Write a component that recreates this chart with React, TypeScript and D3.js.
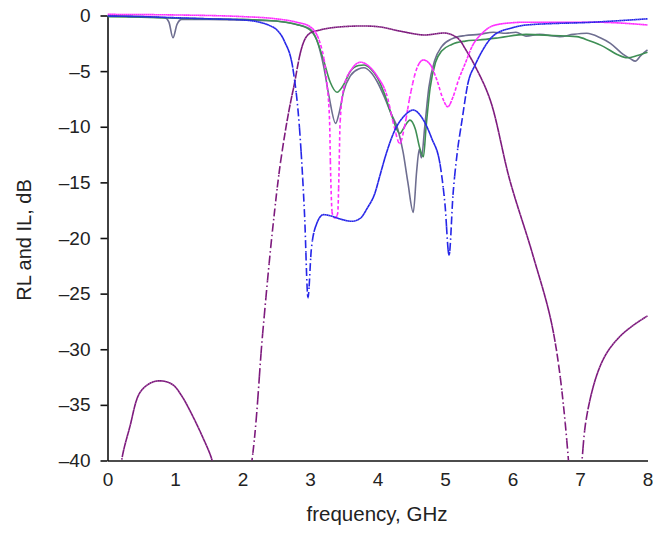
import React, { useEffect, useRef } from 'react';
import * as d3 from 'd3';

const W = 653;
const H = 533;
const margin = { left: 107.5, right: 5.5, top: 15.5, bottom: 72.5 };

const xTicks = [0, 1, 2, 3, 4, 5, 6, 7, 8];
const yTicks = [0, -5, -10, -15, -20, -25, -30, -35, -40];

// measured RL (grey) and measured IL-ish (green), simulated (pink, blue), IL (purple)
const greyMeas: [number, number][] = [
  [0, 0], [0.5, -0.1], [0.85, -0.2], [0.91, -0.6], [0.97, -2.0], [1.03, -0.8], [1.1, -0.35],
  [1.5, -0.35], [2.0, -0.4], [2.5, -0.5], [2.8, -0.8], [3.0, -1.2], [3.1, -2.2], [3.2, -4.5],
  [3.28, -7.2], [3.38, -9.7], [3.43, -8.8], [3.5, -6.8], [3.6, -5.4], [3.72, -4.8], [3.8, -4.7],
  [3.9, -5.1], [4.0, -6.0], [4.1, -7.3], [4.2, -8.8], [4.3, -10.2], [4.38, -12.3], [4.45, -15],
  [4.53, -17.7], [4.58, -14], [4.62, -12], [4.65, -12.8], [4.7, -10], [4.76, -6.5], [4.85, -4],
  [4.95, -2.8], [5.1, -2.1], [5.3, -1.8], [5.5, -1.7], [5.72, -1.5], [5.9, -1.6], [6.05, -1.5],
  [6.2, -1.85], [6.4, -1.7], [6.7, -1.9], [6.9, -1.7], [7.1, -1.6], [7.3, -2.0], [7.45, -2.5],
  [7.64, -3.5], [7.75, -3.9], [7.82, -4.1], [7.9, -3.6], [8, -3.1],
];

const greenMeas: [number, number][] = [
  [0, -0.1], [0.5, -0.15], [1.0, -0.25], [1.5, -0.3], [2.0, -0.35], [2.5, -0.5], [2.8, -0.8],
  [3.0, -1.3], [3.1, -2.2], [3.2, -4.0], [3.3, -6.0], [3.4, -6.9], [3.5, -6.2], [3.6, -5.0],
  [3.72, -4.5], [3.8, -4.45], [3.9, -4.8], [4.0, -5.6], [4.1, -7.0], [4.2, -8.8], [4.33, -10.6],
  [4.4, -10.0], [4.48, -9.4], [4.56, -10.2], [4.63, -12.0], [4.68, -12.7], [4.72, -10],
  [4.78, -6.5], [4.86, -4.2], [4.95, -3.2], [5.1, -2.6], [5.3, -2.3], [5.5, -2.2], [5.8, -2.0],
  [6.2, -1.7], [6.6, -1.8], [6.95, -1.9], [7.15, -2.3], [7.35, -2.8], [7.55, -3.5], [7.7, -3.8],
  [7.85, -3.6], [8, -3.3],
];

const pinkSim: [number, number][] = [
  [0, 0.1], [1, 0.05], [2, -0.1], [2.5, -0.3], [2.8, -0.6], [3.0, -1.0], [3.15, -2.5],
  [3.25, -6.1], [3.29, -9.5], [3.305, -14], [3.33, -17.8], [3.37, -18.2], [3.41, -17.8],
  [3.43, -14], [3.445, -9.8], [3.5, -6.5], [3.62, -4.8], [3.75, -4.2], [3.88, -4.6],
  [4.0, -5.5], [4.14, -7.2], [4.24, -9.8], [4.33, -11.5], [4.4, -10], [4.48, -7.3], [4.58, -4.8],
  [4.68, -4.0], [4.78, -4.4], [4.88, -5.8], [4.97, -7.5], [5.04, -8.2], [5.12, -7.3], [5.2, -5.8],
  [5.3, -4.3], [5.4, -2.8], [5.55, -1.6], [5.72, -0.9], [6.0, -0.65], [6.21, -0.6], [7.2, -0.6],
  [8, -0.85],
];

const blueSim: [number, number][] = [
  [0, -0.05], [0.5, -0.1], [1.0, -0.2], [1.5, -0.3], [2.0, -0.4], [2.25, -0.6], [2.4, -0.9],
  [2.51, -1.3], [2.62, -2.3], [2.75, -4.9], [2.85, -10.6], [2.92, -18], [2.97, -25.3],
  [3.02, -21], [3.1, -18.7], [3.2, -17.9], [3.3, -18.0], [3.45, -18.3], [3.62, -18.5],
  [3.75, -18.2], [3.85, -17.3], [3.96, -16.0], [4.04, -14.3], [4.12, -12.6], [4.25, -10.4],
  [4.4, -9.0], [4.53, -8.5], [4.66, -9.2], [4.8, -11], [4.93, -13.5], [5.0, -17], [5.06, -21.5],
  [5.12, -16], [5.18, -12.4], [5.25, -9.5], [5.34, -6.1], [5.45, -4.4], [5.55, -3.2],
  [5.72, -1.8], [6.0, -1.1], [6.21, -0.85], [7.2, -0.6], [8, -0.3],
];

const purpleIL: [number, number][] = [
  [0.17, -44], [0.21, -40], [0.33, -37], [0.48, -33.9], [0.65, -33.0], [0.81, -32.85],
  [0.97, -33.2], [1.1, -34.2], [1.22, -35.5], [1.41, -37.9], [1.55, -40], [1.6, -42],
  [1.85, -50], [2.14, -40], [2.3, -28.5], [2.45, -19], [2.58, -12.5], [2.75, -6.7],
  [2.96, -1.8], [3.15, -1.3], [3.5, -1.0], [4.0, -1.0], [4.33, -1.4], [4.68, -1.75],
  [5.03, -1.6], [5.2, -2.1], [5.3, -3], [5.45, -4.6], [5.67, -7.6], [5.96, -14.8], [6.3, -21.5],
  [6.6, -28.3], [6.82, -39.3], [6.92, -52], [7.03, -40], [7.1, -36], [7.25, -32.3],
  [7.4, -30.3], [7.6, -28.8], [7.8, -27.8], [8, -27],
];

const curves = [
  { data: greyMeas, color: '#6e6e90', dash: null, smooth: false },
  { data: greenMeas, color: '#3f8f55', dash: null, smooth: false },
  { data: purpleIL, color: '#7d1a7d', dash: '8,3,1.5,3', smooth: true },
  { data: pinkSim, color: '#ff2cff', dash: '3.5,2.5', smooth: false },
  { data: blueSim, color: '#2626e8', dash: '8,3,1.5,3', smooth: false },
];

const font = 'Liberation Sans, Arial, Helvetica, sans-serif';

export default function App() {
  const ref = useRef<SVGSVGElement>(null);

  useEffect(() => {
    const svg = d3.select(ref.current);
    svg.selectAll('*').remove();

    const width = W - margin.left - margin.right;
    const height = H - margin.top - margin.bottom;

    const xScale = d3.scaleLinear().domain([0, 8]).range([0, width]);
    const yScale = d3.scaleLinear().domain([-40, 0]).range([height, 0]);

    const g = svg.append('g')
      .attr('transform', 'translate(' + margin.left + ',' + margin.top + ')');

    svg.append('defs').append('clipPath').attr('id', 'plotclip')
      .append('rect').attr('x', 0).attr('y', -6).attr('width', width + 2).attr('height', height + 6);

    // axes
    const yAxis = d3.axisLeft(yScale).tickValues(yTicks).tickSize(7).tickSizeOuter(0).tickPadding(10)
      .tickFormat((d: any) => (d === 0 ? '0' : '\u2013' + Math.abs(d)));
    const ya = g.append('g').attr('class', 'y axis').call(yAxis);

    const xAxis = d3.axisBottom(xScale).tickValues(xTicks).tickSize(0).tickSizeOuter(0).tickPadding(12)
      .tickFormat((d: any) => String(d));
    const xa = g.append('g').attr('class', 'x axis')
      .attr('transform', 'translate(0,' + height + ')').call(xAxis);

    [ya, xa].forEach((a) => {
      a.select('.domain').attr('stroke', '#111').attr('stroke-width', 1.6);
      a.selectAll('.tick line').attr('stroke', '#111').attr('stroke-width', 1.6);
      a.selectAll('.tick text').attr('fill', '#222').style('font-family', font).style('font-size', '19px');
    });

    // lines
    const lineFor = (smooth: boolean) => d3.line<[number, number]>()
      .x((d) => xScale(d[0]))
      .y((d) => yScale(d[1]))
      .curve(smooth ? d3.curveCatmullRom.alpha(0.5) : d3.curveMonotoneX);

    const plot = g.append('g').attr('clip-path', 'url(#plotclip)');
    const step = 1.6; // px in x per plotted segment, dash restarts per segment

    for (const c of curves) {
      const line = lineFor(c.smooth);
      if (!c.dash) {
        plot.append('path').attr('d', line(c.data)).attr('fill', 'none')
          .attr('stroke', c.color).attr('stroke-width', 1.6).attr('stroke-linejoin', 'round');
        continue;
      }
      const tmp = plot.append('path').attr('d', line(c.data)).attr('fill', 'none');
      const node = tmp.node() as SVGPathElement;
      const total = node.getTotalLength();
      const pts: [number, number][] = [];
      for (let l = 0; l < total; l += 0.5) {
        const p = node.getPointAtLength(l);
        pts.push([p.x, p.y]);
      }
      const pe = node.getPointAtLength(total);
      pts.push([pe.x, pe.y]);
      tmp.remove();

      let seg: [number, number][] = [pts[0]];
      let x0 = pts[0][0];
      const segs: [number, number][][] = [];
      for (let i = 1; i < pts.length; i++) {
        seg.push(pts[i]);
        if (pts[i][0] - x0 >= step) {
          segs.push(seg);
          seg = [pts[i]];
          x0 = pts[i][0];
        }
      }
      if (seg.length > 1) segs.push(seg);

      const raw = d3.line();
      plot.append('g').selectAll('path').data(segs).enter().append('path')
        .attr('d', (s: any) => raw(s))
        .attr('fill', 'none')
        .attr('stroke', c.color)
        .attr('stroke-width', 1.6)
        .attr('stroke-dasharray', c.dash);
    }

    // labels
    svg.append('text')
      .attr('x', 377).attr('y', 521)
      .attr('text-anchor', 'middle')
      .style('font-family', font).style('font-size', '20.5px').attr('fill', '#222')
      .text('frequency, GHz');

    svg.append('text')
      .attr('transform', 'translate(31,240) rotate(-90)')
      .attr('text-anchor', 'middle')
      .style('font-family', font).style('font-size', '20px').attr('fill', '#222')
      .text('RL and IL, dB');
  }, []);

  return (
    <svg ref={ref} width={W} height={H}
      style={{ position: 'absolute', left: 0, top: 0, background: '#fff' }} />
  );
}
